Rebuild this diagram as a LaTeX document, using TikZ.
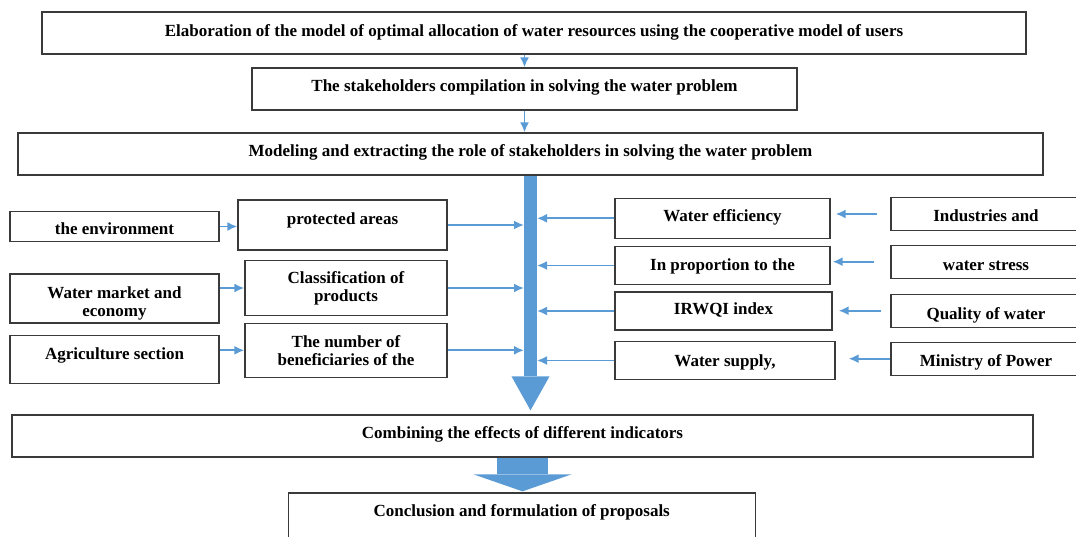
\documentclass[tikz,border=0pt]{standalone}
\usepackage{fontspec}
\setmainfont{Liberation Serif}
\usetikzlibrary{arrows.meta}
\definecolor{flow}{HTML}{5B9BD5}
\definecolor{boxline}{HTML}{3A3A3A}

\begin{document}
\begin{tikzpicture}[x=1pt, y=-1pt,
    box/.style={draw=boxline, line width=1.3pt, fill=white, inner sep=2pt, align=center,
      font=\fontsize{17}{18}\selectfont\bfseries},
    lift/.style={text depth=#1},
    drop/.style={text height=#1},
    arr/.style={draw=flow, line width=1.8pt, -{Latex[length=10pt,width=9pt]}}]
  \useasboundingbox (0,0) rectangle (1076,536);
  % main chain
  \node[box, lift=5pt, minimum width=984pt, minimum height=42pt] (elab) at (534,33) {Elaboration of the model of optimal allocation of water resources using the cooperative model of users};
  \node[box, lift=7pt, minimum width=545pt, minimum height=42pt] (stake) at (524.5,89) {The stakeholders compilation in solving the water problem};
  \node[box, lift=7pt, minimum width=1025pt, minimum height=42pt] (model) at (530.5,154) {Modeling and extracting the role of stakeholders in solving the water problem};
  % left side
  \node[box, drop=15.6pt, minimum width=209pt, minimum height=30pt] (env) at (114.5,226.5) {the environment};
  \node[box, lift=13pt, minimum width=209pt, minimum height=50pt] (prot) at (342.5,225) {protected areas};
  \node[box, minimum width=209pt, minimum height=49pt] (market) at (114.5,298.5) {\rule{0pt}{21pt}Water market and\\economy};
  \node[box, minimum width=202pt, minimum height=55pt] (classif) at (346,288) {Classification of\\products};
  \node[box, lift=11.7pt, minimum width=209pt, minimum height=48pt] (agri) at (114.5,359.5) {Agriculture section};
  \node[box, minimum width=202pt, minimum height=54pt] (number) at (346,350.3) {The number of\\beneficiaries of the};
  % right side
  \node[box, lift=5pt, minimum width=215pt, minimum height=40pt] (effic) at (722.5,218.3) {Water efficiency};
  \node[box, drop=13.6pt, minimum width=215pt, minimum height=38pt] (propor) at (722.5,265.5) {In proportion to the};
  \node[box, lift=5pt, minimum width=217pt, minimum height=38pt] (irwqi) at (723.5,311) {IRWQI index};
  \node[box, drop=15.6pt, minimum width=220pt, minimum height=38pt] (supply) at (725,360.5) {Water supply,};
  \node[box, drop=15.6pt, minimum width=190pt, minimum height=33pt] (indus) at (986,214) {Industries and};
  \node[box, drop=17.6pt, minimum width=190pt, minimum height=33pt] (stress) at (986,261.7) {water stress};
  \node[box, drop=21pt, minimum width=190pt, minimum height=33pt] (quality) at (986,310.7) {Quality of water};
  \node[box, drop=19.6pt, minimum width=190pt, minimum height=33pt] (ministry) at (986,358.7) {Ministry of Power};
  % bottom
  \node[box, lift=7pt, minimum width=1021pt, minimum height=42pt] (comb) at (522.5,436) {Combining the effects of different indicators};
  \node[box, lift=19.5pt, minimum width=467pt, minimum height=54pt] (concl) at (521.7,520) {Conclusion and formulation of proposals};

  \draw[arr] (elab.south -| stake.north) -- (stake.north);
  \draw[arr] (stake.south) -- (stake.south |- model.north);
  % thick spine
  \draw[flow, line width=13pt, -{Triangle[length=34pt,width=38pt,line width=0pt]}, shorten >=4pt] (model.south) -- (model.south |- comb.north);
  \coordinate (spineL) at ([xshift=-6.5pt]model.south);
  \coordinate (spineR) at ([xshift=6.5pt]model.south);
  \draw[arr] (env.east) -- (env.east -| prot.west);
  \draw[arr] (market.east |- classif.west) -- (classif.west);
  \draw[arr] (agri.east |- number.west) -- (number.west);
  \draw[arr] (prot.east) -- (prot.east -| spineL);
  \draw[arr] (classif.east) -- (classif.east -| spineL);
  \draw[arr] (number.east) -- (number.east -| spineL);
  \draw[arr] (effic.west) -- (effic.west -| spineR);
  \draw[arr] (propor.west) -- (propor.west -| spineR);
  \draw[arr] (irwqi.west) -- (irwqi.west -| spineR);
  \draw[arr] (supply.west) -- (supply.west -| spineR);
  \draw[arr, shorten <=13pt, shorten >=5pt] (indus.west) -- (indus.west -| effic.east);
  \draw[arr, shorten <=16pt, shorten >=2pt] (stress.west) -- (stress.west -| propor.east);
  \draw[arr, shorten <=9pt, shorten >=6pt] (quality.west) -- (quality.west -| irwqi.east);
  \draw[arr, shorten >=13pt] (ministry.west) -- (ministry.west -| supply.east);
  \draw[flow, line width=51pt, -{Triangle[length=17pt,width=98pt,line width=0pt]}, shorten >=1pt] (comb.south) -- (comb.south |- concl.north);
\end{tikzpicture}
\end{document}
